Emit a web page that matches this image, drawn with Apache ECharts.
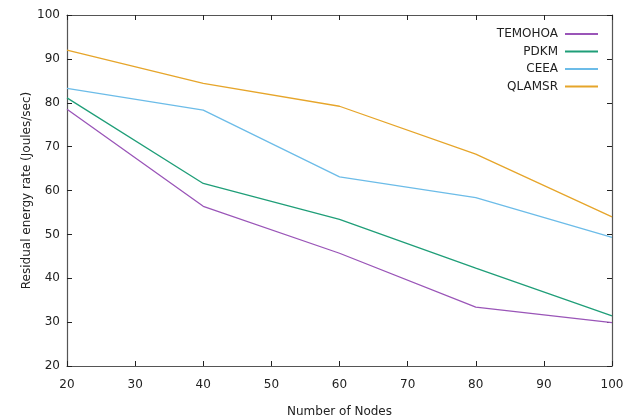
<!DOCTYPE html>
<html>
<head>
<meta charset="utf-8">
<script src="https://cdn.jsdelivr.net/npm/echarts@6/dist/echarts.min.js"></script>
<style>
  html, body { margin: 0; padding: 0; background: #fff; }
  #chart { width: 630px; height: 417px; }
</style>
</head>
<body>
<div id="chart"></div>
<script>
// 节点数
const nodes = [20, 40, 60, 80, 100]
const seriesNames = ['TEMOHOA', 'PDKM', 'CEEA', 'QLAMSR']
const temohoa = [78.5, 56.4, 45.7, 33.4, 29.9]
const pdkm = [81.1, 61.6, 53.4, 42.3, 31.4]
const ceea = [83.3, 78.3, 63.1, 58.4, 49.3]
const qlamsr = [92.0, 84.4, 79.2, 68.3, 54.0]
const colors = ['#9a55b8', '#1f9e78', '#6cbce8', '#e6a52a']

const FONT = 'DejaVu Sans'
const AXIS_COLOR = '#555'

function toPairs(values) {
    return values.map((v, i) => [nodes[i], v])
}

function makeSeries(name, values, color) {
    return {
        name: name,
        type: 'line',
        data: toPairs(values),
        symbol: 'none',
        lineStyle: { color: color, width: 1.3 },
        itemStyle: { color: color }
    }
}

const tickCommon = {
    axisLine: { show: true, lineStyle: { color: AXIS_COLOR, width: 1.2 } },
    axisTick: { show: true, inside: true, length: 5, lineStyle: { color: '#222' } },
    splitLine: { show: false }
}

let option = {
    animation: false,
    textStyle: { fontFamily: FONT },
    grid: { left: 67, right: 18, top: 15, bottom: 51, containLabel: false, outerBoundsMode: 'none' },
    legend: {
        orient: 'vertical',
        right: 27,
        top: 23,
        align: 'right',
        itemWidth: 33,
        itemHeight: 2,
        itemGap: 5.5,
        icon: 'rect',
        data: seriesNames,
        textStyle: { fontFamily: FONT, fontSize: 12, color: '#222', padding: [0, 2, 0, 0] }
    },
    xAxis: [
        Object.assign({
            type: 'value',
            min: 20,
            max: 100,
            interval: 10,
            name: 'Number of Nodes',
            nameLocation: 'middle',
            nameGap: 40,
            nameMoveOverlap: false,
            nameTextStyle: { fontFamily: FONT, fontSize: 12, color: '#222' },
            axisLabel: { fontFamily: FONT, fontSize: 12, color: '#222', margin: 13 }
        }, tickCommon),
        Object.assign({
            type: 'value',
            position: 'top',
            min: 20,
            max: 100,
            interval: 10,
            axisLabel: { show: false }
        }, tickCommon)
    ],
    yAxis: [
        Object.assign({
            type: 'value',
            min: 20,
            max: 100,
            interval: 10,
            name: 'Residual energy rate (Joules/sec)',
            nameLocation: 'middle',
            nameGap: 34,
            nameMoveOverlap: false,
            nameTextStyle: { fontFamily: FONT, fontSize: 12, color: '#222' },
            axisLabel: { fontFamily: FONT, fontSize: 12, color: '#222', margin: 7 }
        }, tickCommon),
        Object.assign({
            type: 'value',
            position: 'right',
            min: 20,
            max: 100,
            interval: 10,
            axisLabel: { show: false }
        }, tickCommon)
    ],
    series: [
        makeSeries(seriesNames[0], temohoa, colors[0]),
        makeSeries(seriesNames[1], pdkm, colors[1]),
        makeSeries(seriesNames[2], ceea, colors[2]),
        makeSeries(seriesNames[3], qlamsr, colors[3])
    ]
}

let myChart = echarts.init(document.getElementById('chart'), null, { renderer: 'canvas' })
myChart.setOption(option)
</script>
</body>
</html>
